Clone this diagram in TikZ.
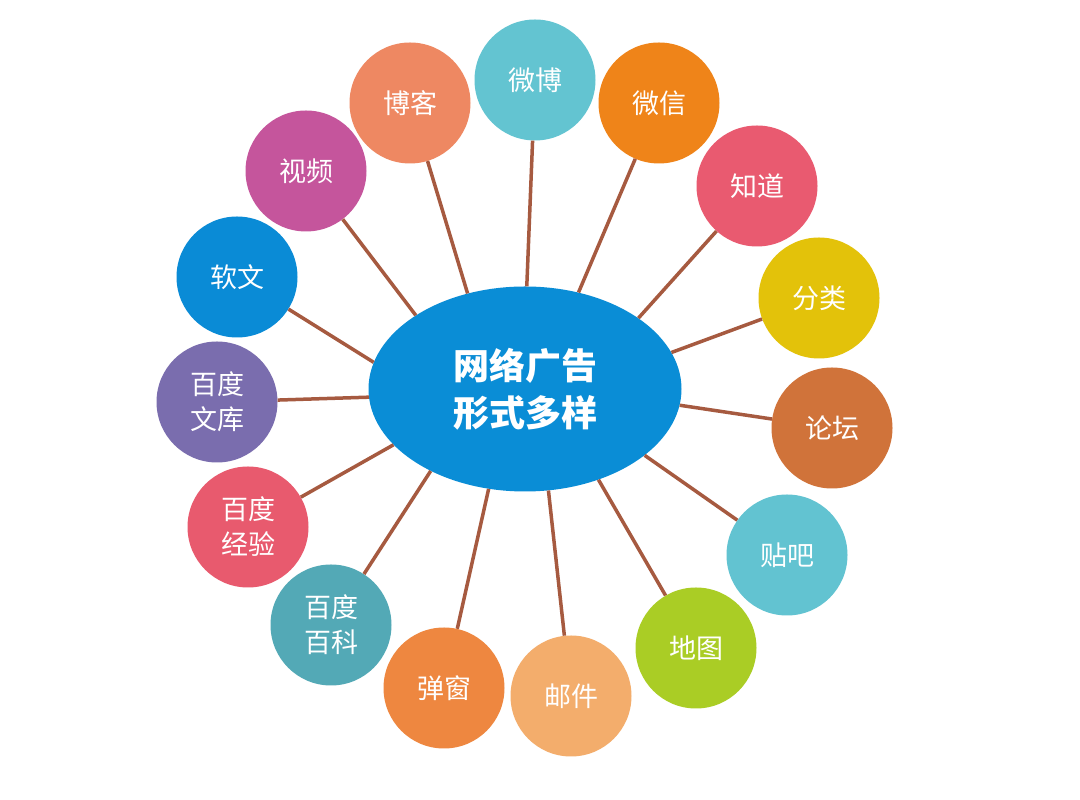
\documentclass[tikz,border=0pt]{standalone}
\usepackage{fontspec}
\newfontfamily\cjk{Noto Sans CJK SC}
\usepackage{tikz}
\usetikzlibrary{shapes}

\definecolor{coulLien}{HTML}{A65A40}
\definecolor{coulCentre}{HTML}{0A8DD6}
\definecolor{coulBoke}{HTML}{EE8862}
\definecolor{coulWeibo}{HTML}{63C4D1}
\definecolor{coulWeixin}{HTML}{EF8419}
\definecolor{coulZhidao}{HTML}{E95A70}
\definecolor{coulFenlei}{HTML}{E3C20A}
\definecolor{coulLuntan}{HTML}{D0733A}
\definecolor{coulTieba}{HTML}{62C3D1}
\definecolor{coulDitu}{HTML}{AACD25}
\definecolor{coulYoujian}{HTML}{F3AD6C}
\definecolor{coulTanchuang}{HTML}{EE8740}
\definecolor{coulBaike}{HTML}{53A9B6}
\definecolor{coulJingyan}{HTML}{E85A6E}
\definecolor{coulWenku}{HTML}{7A6DAE}
\definecolor{coulRuanwen}{HTML}{0A8BD6}
\definecolor{coulShipin}{HTML}{C5559C}

\begin{document}
\begin{tikzpicture}[x=1pt,y=1pt,
	bulle/.style={circle,minimum size=121pt,inner sep=0pt,text=white,align=center,
		font={\cjk\fontsize{27}{35}\selectfont}},
	lien/.style={coulLien,line width=3.5pt}]
			% Cadre
				\useasboundingbox (0,0) rectangle (1080,800);
\fill[white] (0,0) rectangle (1080,800);
			% Centre
\node [ellipse,fill=coulCentre,minimum width=313pt,minimum height=205pt,inner sep=0pt,
	text=white,align=center,font={\cjk\bfseries\fontsize{36}{47}\selectfont}] (pub) at (525,411) {网络广告\\形式多样};
			% Bulles
\node [bulle,fill=coulBoke] (boke) at (410,697) {博客};
\node [bulle,fill=coulWeibo] (weibo) at (535,720) {微博};
\node [bulle,fill=coulWeixin] (weixin) at (659,697) {微信};
\node [bulle,fill=coulZhidao] (zhidao) at (757,614) {知道};
\node [bulle,fill=coulFenlei] (fenlei) at (819,502) {分类};
\node [bulle,fill=coulLuntan] (luntan) at (832,372) {论坛};
\node [bulle,fill=coulTieba] (tieba) at (787,245) {贴吧};
\node [bulle,fill=coulDitu] (ditu) at (696,152) {地图};
\node [bulle,fill=coulYoujian] (youjian) at (571,104) {邮件};
\node [bulle,fill=coulTanchuang] (tanchuang) at (444,112) {弹窗};
\node [bulle,fill=coulBaike] (baike) at (331,175) {百度\\百科};
\node [bulle,fill=coulJingyan] (jingyan) at (248,273) {百度\\经验};
\node [bulle,fill=coulWenku] (wenku) at (217,398) {百度\\文库};
\node [bulle,fill=coulRuanwen] (ruanwen) at (237,523) {软文};
\node [bulle,fill=coulShipin] (shipin) at (306,629) {视频};
			% Liens
\draw [lien] (pub.121) -- (boke);
\draw [lien] (pub.89) -- (weibo);
\draw [lien] (pub.61) -- (weixin);
\draw [lien] (pub.32) -- (zhidao);
\draw [lien] (pub.14) -- (fenlei);
\draw [lien] (pub.354) -- (luntan);
\draw [lien] (pub.331) -- (tieba);
\draw [lien] (pub.309) -- (ditu);
\draw [lien] (pub.283) -- (youjian);
\draw [lien] (pub.250) -- (tanchuang);
\draw [lien] (pub.221) -- (baike);
\draw [lien] (pub.203) -- (jingyan);
\draw [lien] (pub.183) -- (wenku);
\draw [lien] (pub.170) -- (ruanwen);
\draw [lien] (pub.146) -- (shipin);
			\end{tikzpicture}
\end{document}
